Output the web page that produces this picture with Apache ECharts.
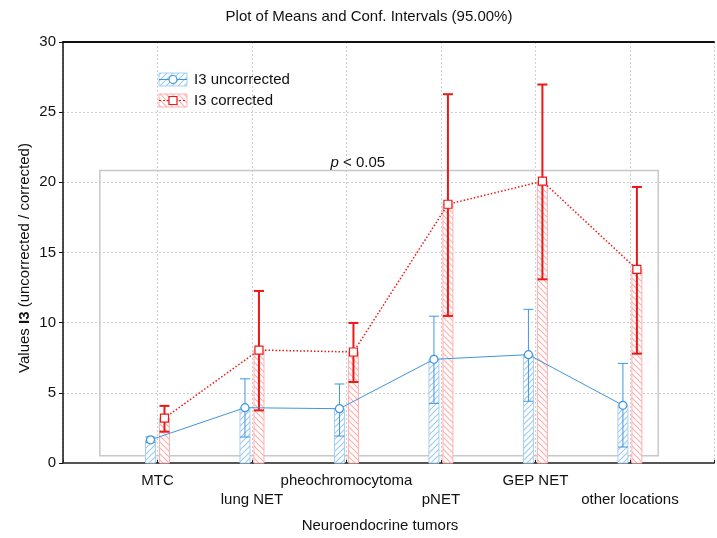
<!DOCTYPE html>
<html>
<head>
<meta charset="utf-8">
<script src="https://cdn.jsdelivr.net/npm/echarts@6/dist/echarts.min.js"></script>
<style>
  html, body { margin: 0; padding: 0; background: #fff; }
  #chart { width: 717px; height: 538px; }
</style>
</head>
<body>
<div id="chart"></div>
<script>
const categories = ["MTC", "lung NET", "pheochromocytoma", "pNET", "GEP NET", "other locations"];
const uncorrMean = [1.65, 3.94, 3.87, 7.39, 7.72, 4.11];
const uncorrLow = [1.45, 1.85, 1.92, 4.25, 4.40, 1.14];
const uncorrHigh = [1.85, 6.00, 5.63, 10.46, 10.95, 7.10];
const corrMean = [3.20, 8.05, 7.91, 18.44, 20.08, 13.80];
const corrLow = [2.23, 3.75, 5.77, 10.48, 13.09, 7.79];
const corrHigh = [4.07, 12.26, 9.98, 26.28, 26.97, 19.67];
// p < 0.05 box: x from/to, y from/to (data units)
const boxX = [0.39, 6.30];
const boxY = [0.52, 20.84];
const pLabelAt = [3.41, 21.4];

const FONT = "Liberation Sans, Arial, sans-serif";
const BLUE = "#3f96e0";
const RED = "#ec1818";
const shift = 0.074; // half distance between the two bars of a group

function hatch(color, dir) {
  const c = document.createElement("canvas");
  c.width = 6; c.height = 6;
  const ctx = c.getContext("2d");
  ctx.fillStyle = "#fff";
  ctx.fillRect(0, 0, 6, 6);
  ctx.strokeStyle = color;
  ctx.lineWidth = 1.2;
  ctx.beginPath();
  if (dir > 0) {
    ctx.moveTo(-1, 7); ctx.lineTo(7, -1);
    ctx.moveTo(-4, 4); ctx.lineTo(4, -4);
    ctx.moveTo(2, 10); ctx.lineTo(10, 2);
  } else {
    ctx.moveTo(-1, -1); ctx.lineTo(7, 7);
    ctx.moveTo(-4, 2); ctx.lineTo(4, 10);
    ctx.moveTo(2, -4); ctx.lineTo(10, 4);
  }
  ctx.stroke();
  return c;
}
const bluePat = { image: hatch("#9fcbf0", 1), repeat: "repeat" };
const redPat = { image: hatch("#ffb0b0", -1), repeat: "repeat" };

function barRender(fill, edge, errColor, errW) {
  return function (params, api) {
    const x = api.value(0);
    const top = api.coord([x, api.value(1)]);
    const base = api.coord([x, 0]);
    const lo = api.coord([x, api.value(2)]);
    const hi = api.coord([x, api.value(3)]);
    const w = 10, cap = 5;
    const es = { stroke: errColor, lineWidth: errW };
    return {
      type: "group",
      children: [
        { type: "rect", shape: { x: top[0] - w / 2, y: top[1], width: w, height: base[1] - top[1] },
          style: { fill: fill, stroke: edge, lineWidth: 1 } },
        { type: "line", shape: { x1: hi[0], y1: hi[1], x2: lo[0], y2: lo[1] }, style: es },
        { type: "line", shape: { x1: hi[0] - cap, y1: hi[1], x2: hi[0] + cap, y2: hi[1] }, style: es },
        { type: "line", shape: { x1: lo[0] - cap, y1: lo[1], x2: lo[0] + cap, y2: lo[1] }, style: es }
      ]
    };
  };
}

const blueData = categories.map((c, i) => [i + 1 - shift, uncorrMean[i], uncorrLow[i], uncorrHigh[i]]);
const redData = categories.map((c, i) => [i + 1 + shift, corrMean[i], corrLow[i], corrHigh[i]]);

const chart = echarts.init(document.getElementById("chart"));

chart.setOption({
  animation: false,
  backgroundColor: "#fff",
  textStyle: { fontFamily: FONT },
  grid: { left: 63, right: 0, top: 42, bottom: 75 },
  xAxis: [{
    type: "value", min: 0, max: 6.89, interval: 1,
    axisLine: { lineStyle: { color: "#555", width: 2 } },
    axisTick: { inside: true, length: 3, lineStyle: { color: "#222" } },
    splitLine: { show: true, lineStyle: { color: "#cfcfcf", type: [2, 2] } },
    axisLabel: {
      color: "#111", fontSize: 15, fontFamily: FONT, margin: 8, lineHeight: 19,
      formatter: function (v) {
        const i = Math.round(v) - 1;
        if (i < 0 || i >= categories.length) return "";
        return i % 2 === 1 ? "\n" + categories[i] : categories[i];
      }
    }
  }, {
    type: "value", position: "top", min: 0, max: 6.89,
    axisLine: { show: true, lineStyle: { color: "#111", width: 2 } },
    axisTick: { show: false }, axisLabel: { show: false }, splitLine: { show: false }
  }],
  yAxis: {
    type: "value", min: 0, max: 30, interval: 5,
    axisLine: { show: true, lineStyle: { color: "#111", width: 1.5 } },
    axisTick: { show: true, length: 4, lineStyle: { color: "#111" } },
    splitLine: { lineStyle: { color: "#cfcfcf", type: [2, 2] } },
    axisLabel: { color: "#111", fontSize: 15, fontFamily: FONT, margin: 7 }
  },
  series: [
    {
      type: "custom", z: 2, silent: true,
      data: [[boxX[0], boxY[0], boxX[1], boxY[1]]],
      renderItem: function (params, api) {
        const a = api.coord([api.value(0), api.value(1)]);
        const b = api.coord([api.value(2), api.value(3)]);
        const t = api.coord(pLabelAt);
        return {
          type: "group",
          children: [
            { type: "rect", shape: { x: a[0], y: b[1], width: b[0] - a[0], height: a[1] - b[1] },
              style: { fill: "none", stroke: "#c8c8c8", lineWidth: 1.5 } },
            { type: "text", x: t[0], y: t[1],
              style: { text: "{i|p} < 0.05", textAlign: "right", textVerticalAlign: "middle",
                font: "15px " + FONT, fill: "#111",
                rich: { i: { fontStyle: "italic", fontSize: 15, fontFamily: FONT } } } }
          ]
        };
      }
    },
    { type: "custom", z: 3, silent: true, data: blueData, encode: { x: 0, y: 1 },
      renderItem: barRender(bluePat, "#a6d0f2", BLUE, 1) },
    { type: "custom", z: 3, silent: true, data: redData, encode: { x: 0, y: 1 },
      renderItem: barRender(redPat, "#ffb0b0", RED, 2) },
    {
      type: "line", z: 5, silent: true,
      data: blueData.map(d => [d[0], d[1]]),
      symbol: "circle", symbolSize: 8,
      lineStyle: { color: BLUE, width: 1 },
      itemStyle: { color: "#fff", borderColor: BLUE, borderWidth: 1.2 }
    },
    {
      type: "line", z: 5, silent: true,
      data: redData.map(d => [d[0], d[1]]),
      symbol: "rect", symbolSize: 8,
      lineStyle: { color: RED, width: 1.5, type: [1.5, 2] },
      itemStyle: { color: "#fff", borderColor: RED, borderWidth: 1.2 }
    }
  ],
  graphic: [
    { type: "text", x: 369, y: 17,
      style: { text: "Plot of Means and Conf. Intervals (95.00%)", font: "15px " + FONT, fill: "#111",
        textAlign: "center", textVerticalAlign: "middle" } },
    { type: "text", x: 380, y: 526,
      style: { text: "Neuroendocrine tumors", font: "15px " + FONT, fill: "#111",
        textAlign: "center", textVerticalAlign: "middle" } },
    { type: "text", x: 25, y: 258, rotation: Math.PI / 2,
      style: { text: "Values {b|I3} (uncorrected / corrected)", font: "15px " + FONT, fill: "#111",
        textAlign: "center", textVerticalAlign: "middle",
        rich: { b: { fontWeight: "bold", fontSize: 15, fontFamily: FONT } } } },
    // legend
    { type: "rect", shape: { x: 159, y: 73, width: 28, height: 13 }, style: { fill: bluePat, stroke: "#a6d0f2" } },
    { type: "line", shape: { x1: 159, y1: 79.5, x2: 187, y2: 79.5 }, style: { stroke: BLUE, lineWidth: 1 } },
    { type: "circle", shape: { cx: 173, cy: 79.5, r: 4 }, style: { fill: "#fff", stroke: BLUE, lineWidth: 1.2 } },
    { type: "text", x: 194, y: 80,
      style: { text: "I3 uncorrected", font: "15px " + FONT, fill: "#111", textVerticalAlign: "middle" } },
    { type: "rect", shape: { x: 159, y: 94, width: 28, height: 13 }, style: { fill: redPat, stroke: "#ffb0b0" } },
    { type: "line", shape: { x1: 159, y1: 100.5, x2: 187, y2: 100.5 }, style: { stroke: RED, lineWidth: 1, lineDash: [2, 2] } },
    { type: "rect", shape: { x: 169, y: 96.5, width: 8, height: 8 }, style: { fill: "#fff", stroke: RED, lineWidth: 1.2 } },
    { type: "text", x: 194, y: 101,
      style: { text: "I3 corrected", font: "15px " + FONT, fill: "#111", textVerticalAlign: "middle" } }
  ]
});

window.addEventListener("resize", function () {
  chart.resize();
});
</script>
</body>
</html>
